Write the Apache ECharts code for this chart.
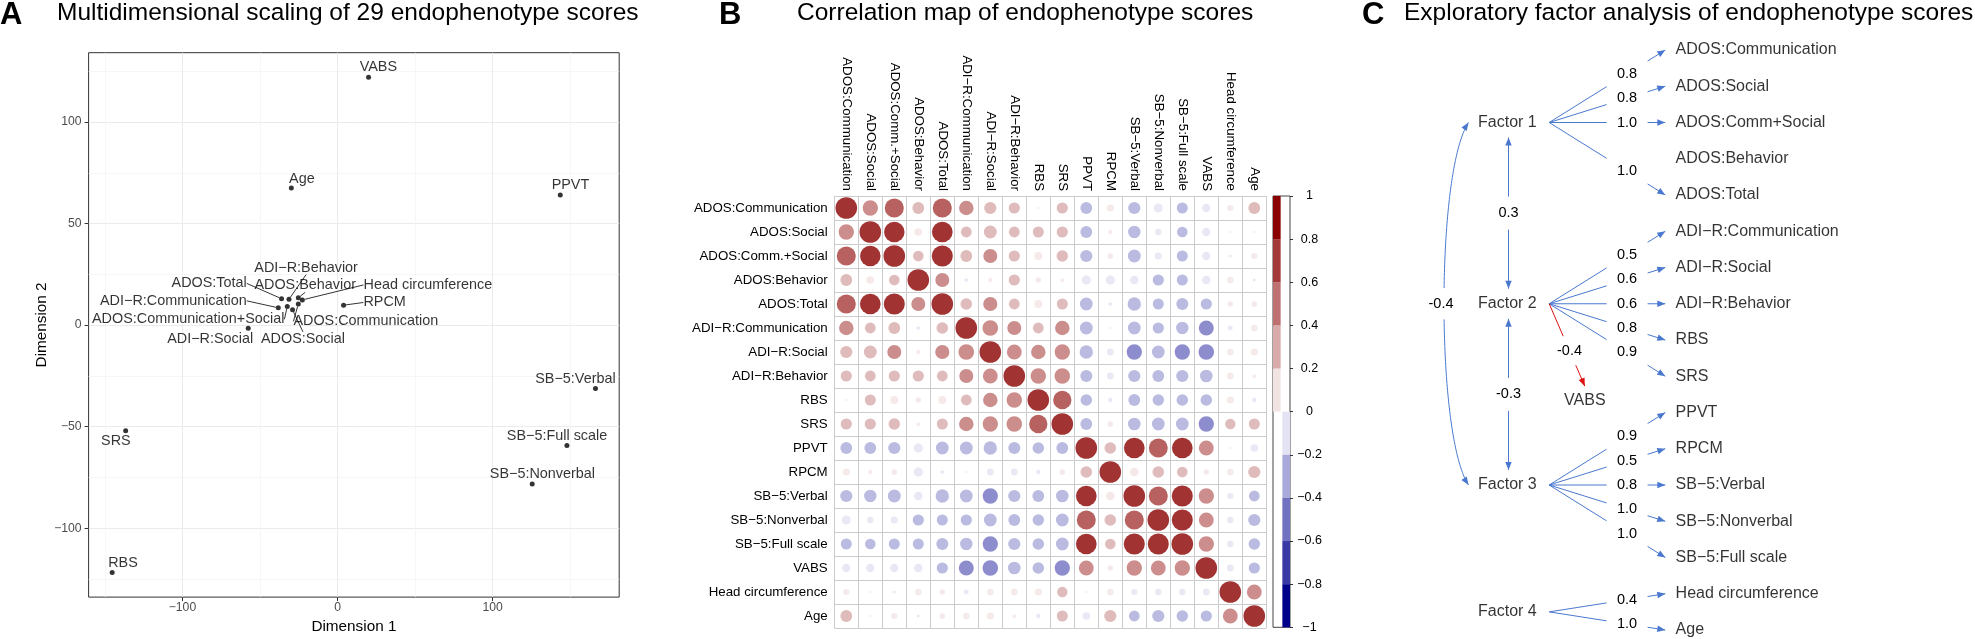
<!DOCTYPE html>
<html><head><meta charset="utf-8">
<script src="https://cdn.jsdelivr.net/npm/echarts@6/dist/echarts.min.js"></script>
<style>html,body{margin:0;padding:0;background:#fff}#c{width:1975px;height:639px}</style>
</head><body><div id="c"></div><script>
// ---------- Panel A : multidimensional scaling ----------
const mdsNames = ['VABS','Age','PPVT','RPCM','Head circumference','ADOS:Behavior','ADI\u2212R:Behavior','ADOS:Total','ADI\u2212R:Communication','ADOS:Communication+Social','ADOS:Social','ADOS:Communication','ADI\u2212R:Social','SRS','RBS','SB\u22125:Verbal','SB\u22125:Full scale','SB\u22125:Nonverbal'];
const mdsDim1 = [20.0,-29.8,143.6,3.9,-22.7,-25.3,-31.3,-36.1,-38.2,-32.4,-29.0,-25.3,-57.6,-136.6,-145.3,166.3,147.9,125.5];
const mdsDim2 = [122.0,67.5,64.1,9.8,12.4,13.5,12.7,13.0,8.5,9.1,7.5,10.4,-1.5,-52.0,-121.8,-31.2,-59.3,-78.2];
const mdsXTicks = [-100,0,100];
const mdsXMinor = [-150,-50,50,150];
const mdsYTicks = [-100,-50,0,50,100];
const mdsYMinor = [-125,-75,-25,25,75,125];

// ---------- Panel B : correlation map ----------
const corrVars = ['ADOS:Communication','ADOS:Social','ADOS:Comm.+Social','ADOS:Behavior','ADOS:Total','ADI\u2212R:Communication','ADI\u2212R:Social','ADI\u2212R:Behavior','RBS','SRS','PPVT','RPCM','SB\u22125:Verbal','SB\u22125:Nonverbal','SB\u22125:Full scale','VABS','Head circumference','Age'];
const corrMatrix = [
 [1,0.5,0.78,0.3,0.78,0.45,0.32,0.27,0.01,0.27,-0.3,0.11,-0.32,-0.17,-0.26,-0.15,0.08,0.3],
 [0.5,1,0.9,0.12,0.92,0.25,0.36,0.25,0.26,0.27,-0.3,0.04,-0.33,-0.09,-0.24,-0.15,0.01,0.01],
 [0.78,0.9,1,0.24,0.95,0.3,0.42,0.27,0.13,0.28,-0.32,0.07,-0.36,-0.11,-0.26,-0.15,0.02,0.08],
 [0.3,0.12,0.24,1,0.42,-0.03,0.04,0.27,0.06,0.03,-0.18,-0.18,-0.16,-0.27,-0.26,-0.16,0.09,-0.02],
 [0.78,0.92,0.95,0.42,1,0.29,0.43,0.25,0.13,0.26,-0.35,-0.03,-0.38,-0.26,-0.31,-0.27,0.06,0.07],
 [0.45,0.25,0.3,-0.03,0.29,1,0.53,0.42,0.25,0.45,-0.36,0.01,-0.35,-0.27,-0.33,-0.48,-0.05,0.09],
 [0.32,0.36,0.42,0.04,0.43,0.53,1,0.47,0.45,0.5,-0.38,-0.1,-0.5,-0.35,-0.5,-0.52,0.09,0.11],
 [0.27,0.25,0.27,0.27,0.25,0.42,0.47,1,0.51,0.52,-0.31,-0.1,-0.32,-0.3,-0.32,-0.34,0.1,0.03],
 [0.01,0.26,0.13,0.06,0.13,0.25,0.45,0.51,1,0.72,-0.29,-0.04,-0.3,-0.28,-0.29,-0.29,0.11,-0.04],
 [0.27,0.27,0.28,0.03,0.26,0.45,0.5,0.52,0.72,1,-0.3,0.07,-0.34,-0.35,-0.35,-0.5,0.23,0.26],
 [-0.3,-0.3,-0.32,-0.18,-0.35,-0.36,-0.38,-0.31,-0.29,-0.3,1,0.29,0.92,0.77,0.92,0.47,0.01,-0.12],
 [0.11,0.04,0.07,-0.18,-0.03,0.01,-0.1,-0.1,-0.04,0.07,0.29,1,0.16,0.29,0.24,0.06,0.09,0.32],
 [-0.32,-0.33,-0.36,-0.16,-0.38,-0.35,-0.5,-0.32,-0.3,-0.34,0.92,0.16,1,0.78,0.95,0.5,-0.08,-0.25],
 [-0.17,-0.09,-0.11,-0.27,-0.26,-0.27,-0.35,-0.3,-0.28,-0.35,0.77,0.29,0.78,1,0.95,0.47,-0.09,-0.32],
 [-0.26,-0.24,-0.26,-0.26,-0.31,-0.33,-0.5,-0.32,-0.29,-0.35,0.92,0.24,0.95,0.95,1,0.5,-0.09,-0.28],
 [-0.15,-0.15,-0.15,-0.16,-0.27,-0.48,-0.52,-0.34,-0.29,-0.5,0.47,0.06,0.5,0.47,0.5,1,-0.1,-0.27],
 [0.08,0.01,0.02,0.09,0.06,-0.05,0.09,0.1,0.11,0.23,0.01,0.09,-0.08,-0.09,-0.09,-0.1,1,0.47],
 [0.3,0.01,0.08,-0.02,0.07,0.09,0.11,0.03,-0.04,0.26,-0.12,0.32,-0.25,-0.32,-0.28,-0.27,0.47,1]
];
const corrBreaks = [-1,-0.8,-0.6,-0.4,-0.2,0,0.2,0.4,0.6,0.8,1];
const corrPalette = ['#00008B','#3939A5','#7171C2','#AAAADA','#E3E3F3','#F2E3E3','#D8AAAA','#BF7171','#A53939','#8B0000'];

// ---------- Panel C : exploratory factor analysis ----------
const efaFactors = ['Factor 1','Factor 2','Factor 3','Factor 4'];
const efaIndicators = ['ADOS:Communication','ADOS:Social','ADOS:Comm+Social','ADOS:Behavior','ADOS:Total','ADI\u2212R:Communication','ADI\u2212R:Social','ADI\u2212R:Behavior','RBS','SRS','PPVT','RPCM','SB\u22125:Verbal','SB\u22125:Nonverbal','SB\u22125:Full scale','Head circumference','Age'];
const efaLoadings = [
 ['Factor 1','ADOS:Communication',0.8],['Factor 1','ADOS:Social',0.8],['Factor 1','ADOS:Comm+Social',1.0],['Factor 1','ADOS:Total',1.0],
 ['Factor 2','ADI\u2212R:Communication',0.5],['Factor 2','ADI\u2212R:Social',0.6],['Factor 2','ADI\u2212R:Behavior',0.6],['Factor 2','RBS',0.8],['Factor 2','SRS',0.9],['Factor 2','VABS',-0.4],
 ['Factor 3','PPVT',0.9],['Factor 3','RPCM',0.5],['Factor 3','SB\u22125:Verbal',0.8],['Factor 3','SB\u22125:Nonverbal',1.0],['Factor 3','SB\u22125:Full scale',1.0],
 ['Factor 4','Head circumference',0.4],['Factor 4','Age',1.0]
];
const efaFactorCorr = [['Factor 1','Factor 2',0.3],['Factor 2','Factor 3',-0.3],['Factor 1','Factor 3',-0.4]];

// ---------- layout / style (not data) ----------
const FONT = '"Liberation Sans", Arial, Helvetica, sans-serif';
const mdsLabelNudge = {
 'VABS':[9.8,-10],'Age':[10.6,-9.3],'PPVT':[10.2,-9.6],'RPCM':[41,-2.7],'Head circumference':[125.6,-15],
 'ADOS:Behavior':[6.9,-12.3],'ADI\u2212R:Behavior':[17.1,-31.7],'ADOS:Total':[-72.4,-15.3],'ADI\u2212R:Communication':[-104.9,-7],
 'ADOS:Communication+Social':[-99.1,12.7],'ADOS:Social':[10.4,29],'ADOS:Communication':[67.5,17.4],'ADI\u2212R:Social':[-38,10.6],
 'SRS':[-9.8,10.7],'RBS':[10.8,-9],'SB\u22125:Verbal':[-20,-9.7],'SB\u22125:Full scale':[-9.9,-9.3],'SB\u22125:Nonverbal':[10.2,-9.7]
};
const mdsWithSegment = ['ADI\u2212R:Behavior','ADOS:Total','Head circumference','ADI\u2212R:Communication','RPCM','ADOS:Communication','ADOS:Social','ADOS:Communication+Social','ADOS:Behavior'];
const EFA = {factorX:87.4, edgeStartX:129.2, arrowTipX:245.3, indTextX:255.6, vabsX:164.8, vabsSlotShift:2.66, vabsTopPad:14,
  labelT:0.671, vabsLabelT:0.57, corrX:88.5, corrPad:15, curveX:48.5, curveCtrlX:15.8, curveCtrlDy:49.5,
  gapW:20.5, gapH:14.5, corrGapH:16.5, arrowLen:8, arrowHalf:3.2, blue:'#4A78CF', red:'#DD1111'};
const minus = s => String(s).replace('-', '\u2212');

// ---------- derived ----------
function factorSlot(f){
  const s = efaLoadings.filter(e => e[0]===f && efaIndicators.indexOf(e[1])>=0).map(e => efaIndicators.indexOf(e[1]));
  return (Math.min.apply(null,s)+Math.max.apply(null,s))/2;
}
const vabsSlot = factorSlot('Factor 2') + EFA.vabsSlotShift;
const efaEdges = efaLoadings.map(e => ({kind:'load', from:e[0], to:e[1], v:e[2]}))
  .concat(efaFactorCorr.map(e => ({kind:'corr', from:e[0], to:e[1], v:e[2]})));

function lerp(A,B,t){ return [A[0]+(B[0]-A[0])*t, A[1]+(B[1]-A[1])*t]; }
function seg(A,B,color){ return {type:'line', shape:{x1:A[0],y1:A[1],x2:B[0],y2:B[1]}, style:{stroke:color, lineWidth:1, fill:null}}; }
function arrowHead(tip, from, color){
  const dx=tip[0]-from[0], dy=tip[1]-from[1], L=Math.hypot(dx,dy)||1, ux=dx/L, uy=dy/L;
  const bx=tip[0]-ux*EFA.arrowLen, by=tip[1]-uy*EFA.arrowLen;
  return {type:'polygon', shape:{points:[[tip[0],tip[1]],[bx-uy*EFA.arrowHalf,by+ux*EFA.arrowHalf],[bx+uy*EFA.arrowHalf,by-ux*EFA.arrowHalf]]}, style:{fill:color, stroke:null}};
}
function numText(p, v){
  return {type:'text', style:{text:v.toFixed(1), x:p[0], y:p[1], fill:'#000', font:'14.5px '+FONT,
    align:'center', verticalAlign:'middle', textAlign:'center', textVerticalAlign:'middle'}};
}
function gappedEdge(ch, S, E, t, gw, gh, color, both){
  const dx=E[0]-S[0], dy=E[1]-S[1];
  const d=Math.min(Math.abs(dx)>1e-6? gw/Math.abs(dx):Infinity, Math.abs(dy)>1e-6? gh/Math.abs(dy):Infinity);
  ch.push(seg(S, lerp(S,E,t-d), color));
  ch.push(seg(lerp(S,E,t+d), E, color));
  ch.push(arrowHead(E, S, color));
  if (both) ch.push(arrowHead(S, E, color));
  return lerp(S,E,t);
}
function bez(P0,C1,C2,P3,t){
  const u=1-t;
  return [u*u*u*P0[0]+3*u*u*t*C1[0]+3*u*t*t*C2[0]+t*t*t*P3[0], u*u*u*P0[1]+3*u*u*t*C1[1]+3*u*t*t*C2[1]+t*t*t*P3[1]];
}
function renderEdge(params, api){
  const e = efaEdges[params.dataIndex];
  const ch = [];
  if (e.kind==='load'){
    const S = api.coord([EFA.edgeStartX, factorSlot(e.from)]);
    let E, t;
    const idx = efaIndicators.indexOf(e.to);
    if (idx>=0){ E = api.coord([EFA.arrowTipX, idx]); t = EFA.labelT; }
    else { const c = api.coord([EFA.vabsX, vabsSlot]); E = [c[0], c[1]-EFA.vabsTopPad]; t = EFA.vabsLabelT; }
    const color = e.v<0 ? EFA.red : EFA.blue;
    const L = gappedEdge(ch, S, E, t, EFA.gapW, EFA.gapH, color, false);
    ch.push(numText(L, e.v));
  } else {
    const a = efaFactors.indexOf(e.from), b = efaFactors.indexOf(e.to);
    if (Math.abs(a-b)===1){
      const A = api.coord([EFA.corrX, factorSlot(e.from)]), B = api.coord([EFA.corrX, factorSlot(e.to)]);
      const S = [A[0], A[1]+EFA.corrPad], E = [B[0], B[1]-EFA.corrPad];
      const L = gappedEdge(ch, S, E, 0.5, EFA.gapW, EFA.corrGapH, EFA.blue, true);
      ch.push(numText(L, e.v));
    } else {
      const P0 = api.coord([EFA.curveX, factorSlot(e.from)]), P3 = api.coord([EFA.curveX, factorSlot(e.to)]);
      const cx = api.coord([EFA.curveCtrlX, 0])[0];
      const C1 = [cx, P0[1]+EFA.curveCtrlDy], C2 = [cx, P3[1]-EFA.curveCtrlDy];
      const M = bez(P0,C1,C2,P3,0.5); const L = [M[0]-3, M[1]];
      let run = [];
      for (let i=0;i<=120;i++){
        const p = bez(P0,C1,C2,P3,i/120);
        const inside = Math.abs(p[0]-L[0])<EFA.gapW && Math.abs(p[1]-L[1])<15;
        if (inside){ if (run.length>1) ch.push({type:'polyline', shape:{points:run}, style:{stroke:EFA.blue, lineWidth:1, fill:null}}); run=[]; }
        else run.push(p);
      }
      if (run.length>1) ch.push({type:'polyline', shape:{points:run}, style:{stroke:EFA.blue, lineWidth:1, fill:null}});
      ch.push(arrowHead(P0, C1, EFA.blue));
      ch.push(arrowHead(P3, C2, EFA.blue));
      ch.push(numText(L, e.v));
    }
  }
  return {type:'group', children:ch};
}

// ---------- series data ----------
const mdsData = mdsNames.map((n,i) => ({name:n, value:[mdsDim1[i], mdsDim2[i]], labelLine:{show: mdsWithSegment.indexOf(n)>=0}}));
const corrData = [];
corrMatrix.forEach((row,i) => row.forEach((r,j) => corrData.push([j,i,r])));
const barSeries = [];
const posBands = [], negBands = [];
for (let k=0;k<corrPalette.length;k++){
  const lo=corrBreaks[k], hi=corrBreaks[k+1];
  if (lo>=0) posBands.push({v:hi-lo, c:corrPalette[k]}); else negBands.unshift({v:lo-hi, c:corrPalette[k]});
}
posBands.concat(negBands).forEach(b => barSeries.push({type:'bar', xAxisIndex:3, yAxisIndex:3, stack: b.v>0?'pos':'neg',
  data:[b.v], barWidth:'100%', silent:true, itemStyle:{color:b.c}, animation:false}));
const nodeData = efaFactors.map(f => ({name:f, value:[EFA.factorX, factorSlot(f)], label:{position:'inside'}}))
  .concat(efaIndicators.map((n,i) => ({name:n, value:[EFA.indTextX, i], label:{position:'right', distance:0}})))
  .concat([{name:'VABS', value:[EFA.vabsX, vabsSlot], label:{position:'inside'}}]);

const titleStyle = {fontSize:24.5, fontWeight:'normal', color:'#000', fontFamily:FONT};
const letterStyle = {fontSize:31, fontWeight:'bold', color:'#000', fontFamily:FONT};

const option = {
  animation:false,
  textStyle:{fontFamily:FONT},
  title:[
    {text:'A', left:0, top:0, padding:0, textStyle:letterStyle},
    {text:'Multidimensional scaling of 29 endophenotype scores', left:57, top:1, padding:0, textStyle:titleStyle},
    {text:'B', left:719, top:0, padding:0, textStyle:letterStyle},
    {text:'Correlation map of endophenotype scores', left:797, top:1, padding:0, textStyle:titleStyle},
    {text:'C', left:1362, top:0, padding:0, textStyle:letterStyle},
    {text:'Exploratory factor analysis of endophenotype scores', left:1404, top:1, padding:0, textStyle:titleStyle}
  ],
  visualMap:[{type:'piecewise', show:false, seriesIndex:1, dimension:2,
    pieces: corrPalette.map((c,k) => k===corrPalette.length-1 ? {gte:corrBreaks[k], lte:corrBreaks[k+1], color:c} : {gte:corrBreaks[k], lt:corrBreaks[k+1], color:c})}],
  grid:[
    {left:88.6, top:52.7, width:530.6, height:549.6, show:true, borderColor:'#333', borderWidth:1, backgroundColor:'transparent'},
    {left:834.3, top:196, width:432, height:432},
    {left:1273, top:196, width:17, height:431.3, show:true, borderColor:'#444', borderWidth:1},
    {left:1420, top:50, width:555, height:580}
  ],
  xAxis:[
    {gridIndex:0, type:'value', min:-160.5, max:181.6, axisLine:{show:false, onZero:false},
     axisTick:{show:true, customValues:mdsXTicks, length:4, lineStyle:{color:'#333'}},
     axisLabel:{customValues:mdsXTicks, color:'#4d4d4d', fontSize:12.2, margin:5, formatter:minus},
     splitLine:{show:true, lineStyle:{color:'#EBEBEB', width:1}},
     name:'Dimension 1', nameLocation:'middle', nameGap:18.3, nameTextStyle:{fontSize:15.3, color:'#000'}},
    {gridIndex:0, type:'value', min:-160.5, max:181.6, axisLine:{show:false, onZero:false},
     axisTick:{show:false, customValues:mdsXMinor}, axisLabel:{show:false, customValues:mdsXMinor},
     splitLine:{show:true, lineStyle:{color:'#F4F4F4', width:0.7}}},
    {gridIndex:1, type:'category', data:corrVars, position:'top', axisLine:{show:false}, axisTick:{show:false},
     axisLabel:{rotate:90, margin:5, fontSize:13.3, color:'#000', interval:0},
     splitLine:{show:true, interval:0, lineStyle:{color:'#CCCCCC', width:1}}},
    {gridIndex:2, type:'category', data:['bar'], show:false},
    {gridIndex:3, type:'value', min:0, max:555, show:false}
  ],
  yAxis:[
    {gridIndex:0, type:'value', min:-133.9, max:134.1, axisLine:{show:false, onZero:false},
     axisTick:{show:true, customValues:mdsYTicks, length:4, lineStyle:{color:'#333'}},
     axisLabel:{customValues:mdsYTicks, color:'#4d4d4d', fontSize:12.2, margin:7, formatter:minus},
     splitLine:{show:true, lineStyle:{color:'#EBEBEB', width:1}},
     name:'Dimension 2', nameLocation:'middle', nameGap:39, nameTextStyle:{fontSize:15.3, color:'#000'}},
    {gridIndex:0, type:'value', min:-133.9, max:134.1, axisLine:{show:false, onZero:false},
     axisTick:{show:false, customValues:mdsYMinor}, axisLabel:{show:false, customValues:mdsYMinor},
     splitLine:{show:true, lineStyle:{color:'#F4F4F4', width:0.7}}},
    {gridIndex:1, type:'category', data:corrVars, inverse:true, axisLine:{show:false}, axisTick:{show:false},
     axisLabel:{margin:6.6, fontSize:13.3, color:'#000', interval:0},
     splitLine:{show:true, interval:0, lineStyle:{color:'#CCCCCC', width:1}}},
    {gridIndex:2, type:'value', min:-1, max:1, interval:0.2, position:'right',
     axisLine:{show:false, onZero:false}, axisTick:{show:true, length:3, lineStyle:{color:'#333'}},
     axisLabel:{align:'center', margin:19.5, fontSize:12.5, color:'#000', formatter: v => minus(Math.round(v*10)/10)},
     splitLine:{show:false}},
    {gridIndex:3, type:'value', min:0, max:16, inverse:true, show:false}
  ],
  series:[
    {type:'scatter', xAxisIndex:0, yAxisIndex:0, data:mdsData, symbolSize:5, itemStyle:{color:'#000'}, clip:false,
     label:{show:true, position:'inside', formatter:'{b}', fontSize:14.4, color:'#000'},
     labelLine:{show:false, lineStyle:{color:'#000', width:0.8}},
     labelLayout: p => { const n = mdsNames[p.dataIndex]; const d = mdsLabelNudge[n] || [0,0]; return {dx:d[0], dy:d[1]}; }},
    {type:'scatter', xAxisIndex:2, yAxisIndex:2, data:corrData, symbolSize: v => 21.6*Math.sqrt(Math.abs(v[2])), silent:true},
  ].concat(barSeries).concat([
    {type:'custom', xAxisIndex:4, yAxisIndex:4, data: efaEdges.map(() => [0,0]), renderItem:renderEdge, clip:false, silent:true},
    {type:'scatter', xAxisIndex:4, yAxisIndex:4, data:nodeData, symbolSize:0, silent:true,
     label:{show:true, formatter:'{b}', fontSize:16, color:'#000'}}
  ])
};
const chart = echarts.init(document.getElementById('c'), null, {renderer:'canvas'});
chart.setOption(option);
</script></body></html>
